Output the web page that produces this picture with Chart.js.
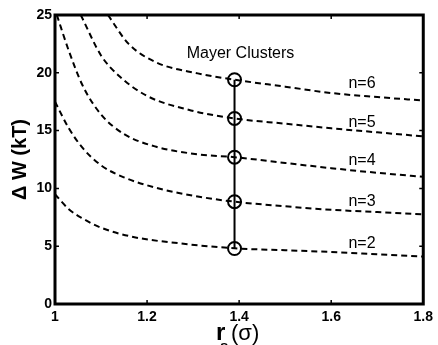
<!DOCTYPE html>
<html><head><meta charset="utf-8">
<script src="https://cdn.jsdelivr.net/npm/chart.js@4"></script>
<style>html,body{margin:0;padding:0;background:#fff}#wrap{width:438px;height:345px}</style>
</head><body><div id="wrap"><canvas id="c" width="438" height="345"></canvas></div>
<script>
const xTicks = [1, 1.2, 1.4, 1.6, 1.8];
const yTicks = [0, 5, 10, 15, 20, 25];
const n2_x = [1.0, 1.03, 1.06, 1.1, 1.17, 1.27, 1.39, 1.5, 1.6, 1.7, 1.8];
const n2_y = [9.5, 8.2, 7.4, 6.6, 5.8, 5.25, 4.82, 4.65, 4.5, 4.3, 4.1];
const n3_x = [1.0, 1.03, 1.06, 1.1, 1.15, 1.22, 1.31, 1.39, 1.5, 1.6, 1.7, 1.8];
const n3_y = [17.5, 15.2, 13.5, 12.0, 10.95, 10.05, 9.3, 8.85, 8.45, 8.15, 7.95, 7.75];
const n4_x = [1.004, 1.03, 1.06, 1.1, 1.15, 1.22, 1.31, 1.39, 1.5, 1.6, 1.7, 1.8];
const n4_y = [25, 21.9, 18.9, 16.4, 14.7, 13.6, 12.95, 12.7, 12.2, 11.75, 11.35, 11.0];
const n5_x = [1.056, 1.1, 1.14, 1.2, 1.29, 1.39, 1.5, 1.6, 1.7, 1.8];
const n5_y = [25, 21.5, 19.7, 18.0, 16.8, 16.05, 15.6, 15.2, 14.85, 14.5];
const n6_x = [1.115, 1.16, 1.22, 1.31, 1.39, 1.5, 1.6, 1.7, 1.8];
const n6_y = [25, 22.5, 20.9, 19.95, 19.4, 18.8, 18.25, 17.9, 17.6];
const mayer_x = [1.39, 1.39, 1.39, 1.39, 1.39];
const mayer_y = [4.8, 8.85, 12.7, 16.05, 19.4];
const seriesLabels = ['n=2', 'n=3', 'n=4', 'n=5', 'n=6'];
const labelX = [1.667, 1.667, 1.667, 1.667, 1.667];
const labelY = [5.2, 8.85, 12.4, 15.7, 19.1];
const annotText = 'Mayer Clusters';
const annotX = 1.403, annotY = 21.7;

const pts = (xs, ys) => xs.map((x, i) => ({x, y: ys[i]}));
const curve = (xs, ys, lbl) => ({
  label: lbl, data: pts(xs, ys), borderColor: '#000', borderWidth: 2,
  borderDash: [6, 4], pointRadius: 0, fill: false,
  cubicInterpolationMode: 'monotone', order: 2
});
const FONT = "'Liberation Sans', Arial, sans-serif";

const deco = {
  id: 'deco',
  afterDraw(chart) {
    const ctx = chart.ctx, a = chart.chartArea;
    const xs = chart.scales.x, ys = chart.scales.y;
    ctx.save();
    ctx.strokeStyle = '#000';
    ctx.lineWidth = 1.5;
    ctx.beginPath();
    xTicks.slice(1, -1).forEach(v => {
      const p = xs.getPixelForValue(v);
      ctx.moveTo(p, a.bottom); ctx.lineTo(p, a.bottom - 4);
      ctx.moveTo(p, a.top); ctx.lineTo(p, a.top + 4);
    });
    yTicks.slice(1, -1).forEach(v => {
      const p = ys.getPixelForValue(v);
      ctx.moveTo(a.left, p); ctx.lineTo(a.left + 4, p);
      ctx.moveTo(a.right, p); ctx.lineTo(a.right - 4, p);
    });
    ctx.stroke();
    ctx.lineWidth = 3;
    ctx.strokeRect(a.left, a.top, a.right - a.left, a.bottom - a.top);
    ctx.fillStyle = '#000';
    ctx.font = '16px ' + FONT;
    ctx.textAlign = 'center'; ctx.textBaseline = 'middle';
    seriesLabels.forEach((t, i) => {
      ctx.fillText(t, xs.getPixelForValue(labelX[i]), ys.getPixelForValue(labelY[i]));
    });
    ctx.fillText(annotText, xs.getPixelForValue(annotX), ys.getPixelForValue(annotY));
    // y title
    ctx.save();
    ctx.translate(26, (a.top + a.bottom) / 2);
    ctx.rotate(-Math.PI / 2);
    ctx.font = 'bold 20px ' + FONT;
    ctx.textAlign = 'center'; ctx.textBaseline = 'alphabetic';
    ctx.fillText('\u0394 W (kT)', 0, 0);
    ctx.restore();
    // x title
    ctx.textAlign = 'left'; ctx.textBaseline = 'alphabetic';
    ctx.font = 'bold 24px ' + FONT;
    ctx.fillText('r', 216, 340);
    ctx.font = 'bold 15px ' + FONT;
    ctx.fillText('s', 220, 351);
    ctx.font = '22px ' + FONT;
    ctx.fillText('(\u03c3)', 231, 340);
    ctx.restore();
  }
};

new Chart(document.getElementById('c'), {
  type: 'line',
  data: {
    datasets: [
      {label: 'Mayer Clusters', data: pts(mayer_x, mayer_y), borderColor: '#000', borderWidth: 2,
       pointRadius: 6.5, pointBorderWidth: 2, pointBorderColor: '#000',
       pointBackgroundColor: 'rgba(0,0,0,0)', fill: false, order: 0},
      curve(n2_x, n2_y, 'n=2'), curve(n3_x, n3_y, 'n=3'), curve(n4_x, n4_y, 'n=4'),
      curve(n5_x, n5_y, 'n=5'), curve(n6_x, n6_y, 'n=6')
    ]
  },
  options: {
    responsive: false, animation: false, devicePixelRatio: 1,
    layout: {padding: {top: 15, right: 10, left: 0, bottom: 0}},
    plugins: {legend: {display: false}, tooltip: {enabled: false}},
    scales: {
      x: {type: 'linear', min: 1, max: 1.8,
          afterBuildTicks: s => { s.ticks = xTicks.map(v => ({value: v})); },
          afterFit: s => { s.height = 41; },
          grid: {display: false, drawTicks: false}, border: {display: false},
          ticks: {padding: 5, color: '#000', font: {family: FONT, size: 14, weight: 'bold'},
                  maxRotation: 0, callback: v => String(v)}},
      y: {type: 'linear', min: 0, max: 25,
          afterBuildTicks: s => { s.ticks = yTicks.map(v => ({value: v})); },
          afterFit: s => { s.width = 55; },
          grid: {display: false, drawTicks: false}, border: {display: false},
          ticks: {padding: 3, color: '#000', font: {family: FONT, size: 14, weight: 'bold'},
                  callback: v => String(v)}}
    }
  },
  plugins: [deco]
});
</script></body></html>
